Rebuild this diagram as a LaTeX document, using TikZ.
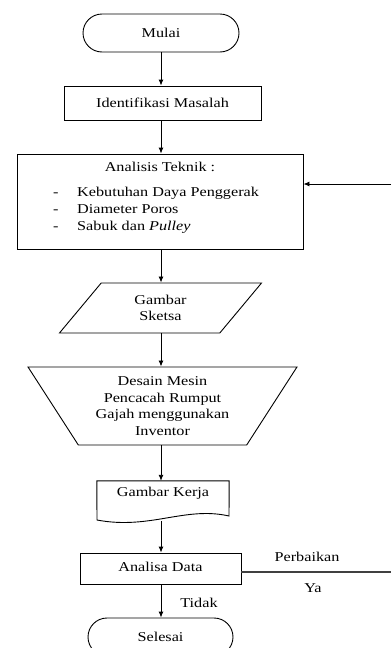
\documentclass[tikz,border=0pt]{standalone}
\usepackage{fontspec}
\setmainfont[FakeStretch=1.2]{Liberation Serif}
\usetikzlibrary{shapes.misc,shapes.geometric,arrows.meta}
\begin{document}
\begin{tikzpicture}[x=1pt,y=-1pt,
  every node/.style={font=\fontsize{13.5}{16.7}\selectfont, inner sep=0pt},
  line/.style={line width=0.9pt, draw=black},
  arr/.style={line, -{Latex[length=6pt,width=5pt]}},
  term/.style={line, rounded rectangle},
  procbox/.style={line, rectangle}]
\useasboundingbox (0,0) rectangle (391,648);
\clip (0,0) rectangle (391,648);
\fill[white] (0,0) rectangle (391,648);

\node[term, minimum width=156pt, minimum height=38pt] (mulai) at (161,33) {Mulai};
\node[procbox, minimum width=197pt, minimum height=34pt] (ident) at (162.5,103) {Identifikasi Masalah};
\node[procbox, minimum width=286pt, minimum height=95pt] (analisis) at (160,201.5) {};
\node (judul) at (160,166.5) {Analisis Teknik :};
\node[align=left, anchor=north west] (list) at (53,185) {%
  \begin{tabular}{@{}p{24pt}@{}l@{}}
  -& Kebutuhan Daya Penggerak\\
  -& Diameter Poros\\
  -& Sabuk dan \textit{Pulley}
  \end{tabular}};

\node[line, trapezium, trapezium stretches=true, trapezium left angle=55, trapezium right angle=125,
      minimum width=203pt, minimum height=50pt, align=center] (sketsa) at (160.5,308) {Gambar\\Sketsa};

\node[line, trapezium, trapezium stretches=true, shape border rotate=180,
      trapezium left angle=56, trapezium right angle=56,
      minimum width=269pt, minimum height=78pt, align=center] (desain) at (162.5,406)
      {Desain Mesin\\Pencacah Rumput\\Gajah menggunakan\\Inventor};

\node[minimum width=132pt, minimum height=41pt] (kerja) at (163,501.5) {};
\draw[line] (kerja.north west) -- (kerja.north east) -- (229,516)
   .. controls (185,506) and (150,530) .. (97,520) -- cycle;
\node (kerjatxt) at (163,493) {Gambar Kerja};

\node[procbox, minimum width=161pt, minimum height=31pt] (analisa) at (160.5,568.5) {};
\node (analisatxt) at (160.5,566.5) {Analisa Data};

\node[term, minimum width=145pt, minimum height=38pt] (selesai) at (160.5,637) {Selesai};

\node (perbaikan) at (307,557) {Perbaikan};
\node (ya) at (313,588) {Ya};
\node (tidak) at (199,603) {Tidak};

\coordinate (fbout) at (391,572);
\coordinate (fbin) at (391,184);

\draw[arr] (mulai.south -| 161,0) -- (ident.north -| 161,0);
\draw[arr] (ident.south -| 161,0) -- (analisis.north -| 161,0);
\draw[arr] (analisis.south -| 161,0) -- (sketsa.north -| 161,0);
\draw[arr] (sketsa.south -| 161,0) -- (desain.north -| 161,0);
\draw[arr] (desain.south -| 161,0) -- (kerja.north -| 161,0);
\draw[arr] (161,521) -- (analisa.north -| 161,0);
\draw[arr] (analisa.south -| 161,0) -- (selesai.north -| 161,0);
\draw[line, draw=black!75, line width=1.1pt] (analisa.east |- fbout) -- (fbout);
\draw[arr] (fbin) -- (analisis.east |- fbin);
\end{tikzpicture}
\end{document}
